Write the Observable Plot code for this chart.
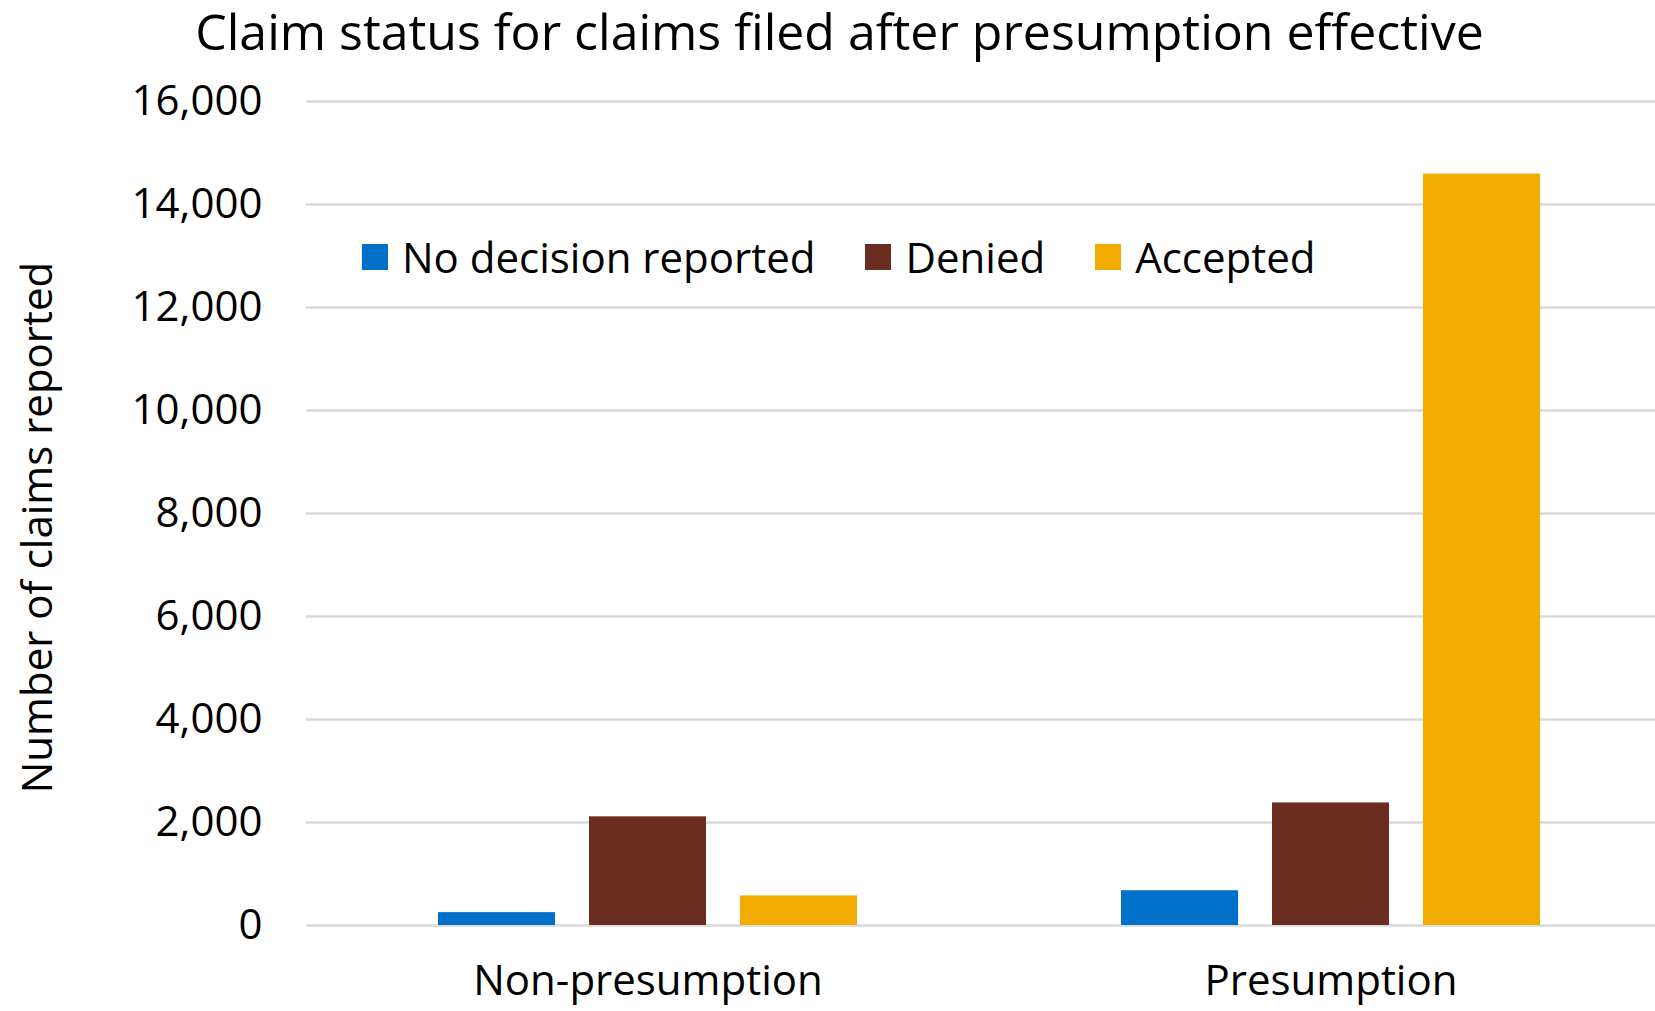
<!DOCTYPE html>
<html>
<head>
<meta charset="utf-8">
<script src="https://cdn.jsdelivr.net/npm/d3@7"></script>
<script src="https://cdn.jsdelivr.net/npm/@observablehq/plot@0.6"></script>
<style>
  html, body { margin: 0; padding: 0; background: #fff; overflow: hidden; width: 1655px; height: 1011px; }
  body { font-family: "Open Sans", sans-serif; color: #000; position: relative; }
  #title { height: 62px; line-height: 62px; font-size: 50px; text-align: center; white-space: nowrap; padding-left: 24px; }
  #chart { width: 1655px; overflow: hidden; }
  #chart svg { max-width: none !important; display: block; overflow: visible; }
  #legend { position: absolute; top: 231px; left: 362px; display: flex; align-items: center; font-size: 42px; line-height: 52px; }
  #legend .item { display: flex; align-items: center; margin-right: 50px; }
  #legend .sw { width: 26px; height: 26px; margin-right: 14px; }
</style>
</head>
<body>
<div id="title"></div>
<div id="chart"></div>
<div id="legend"></div>
<script>
const titleText = "Claim status for claims filed after presumption effective";
const yLabel = "Number of claims reported";
const categories = ["Non-presumption", "Presumption"];
const statuses = ["No decision reported", "Denied", "Accepted"];
const noDecision = [250, 675];
const denied = [2110, 2380];
const accepted = [575, 14590];
const colors = ["#0070C9", "#6C2D21", "#F2AC00"];
const yTicks = [0, 2000, 4000, 6000, 8000, 10000, 12000, 14000, 16000];

const series = [noDecision, denied, accepted];
const data = [];
categories.forEach((c, i) => {
  statuses.forEach((s, j) => data.push({category: c, status: s, value: series[j][i]}));
});

document.getElementById("title").textContent = titleText;

const chart = Plot.plot({
  width: 1672,
  height: 949,
  marginTop: 39,
  marginLeft: 305,
  marginRight: 0,
  marginBottom: 86,
  style: {fontFamily: "Open Sans", background: "#fff", color: "#000", maxWidth: "none"},
  fx: {domain: categories, paddingInner: 0, paddingOuter: 0, label: null},
  x: {domain: statuses, paddingInner: 0.2237, paddingOuter: 0.86, axis: null},
  y: {domain: [0, 16000]},
  color: {domain: statuses, range: colors},
  marks: [
    Plot.gridY(yTicks, {stroke: "#d9d9d9", strokeOpacity: 1, strokeWidth: 2.5}),
    Plot.barY(data, {fx: "category", x: "status", y: "value", fill: "status"}),
    Plot.axisY(yTicks, {
      tickSize: 0, tickPadding: 44, fontSize: 42, tickFormat: d3.format(","), label: null
    }),
    Plot.text([yLabel], {
      fx: () => categories[0], text: (d) => d, frameAnchor: "left", rotate: -90,
      lineAnchor: "middle", textAnchor: "middle", fontSize: 42, fill: "#000",
      dx: -268, dy: 14
    }),
    Plot.axisFx({anchor: "bottom", tickSize: 0, tickPadding: 40, fontSize: 42, label: null})
  ]
});
document.getElementById("chart").appendChild(chart);

const legend = document.getElementById("legend");
statuses.forEach((s, j) => {
  const item = document.createElement("div");
  item.className = "item";
  const sw = document.createElement("div");
  sw.className = "sw";
  sw.style.background = colors[j];
  const t = document.createElement("span");
  t.textContent = s;
  item.appendChild(sw);
  item.appendChild(t);
  legend.appendChild(item);
});
</script>
</body>
</html>
